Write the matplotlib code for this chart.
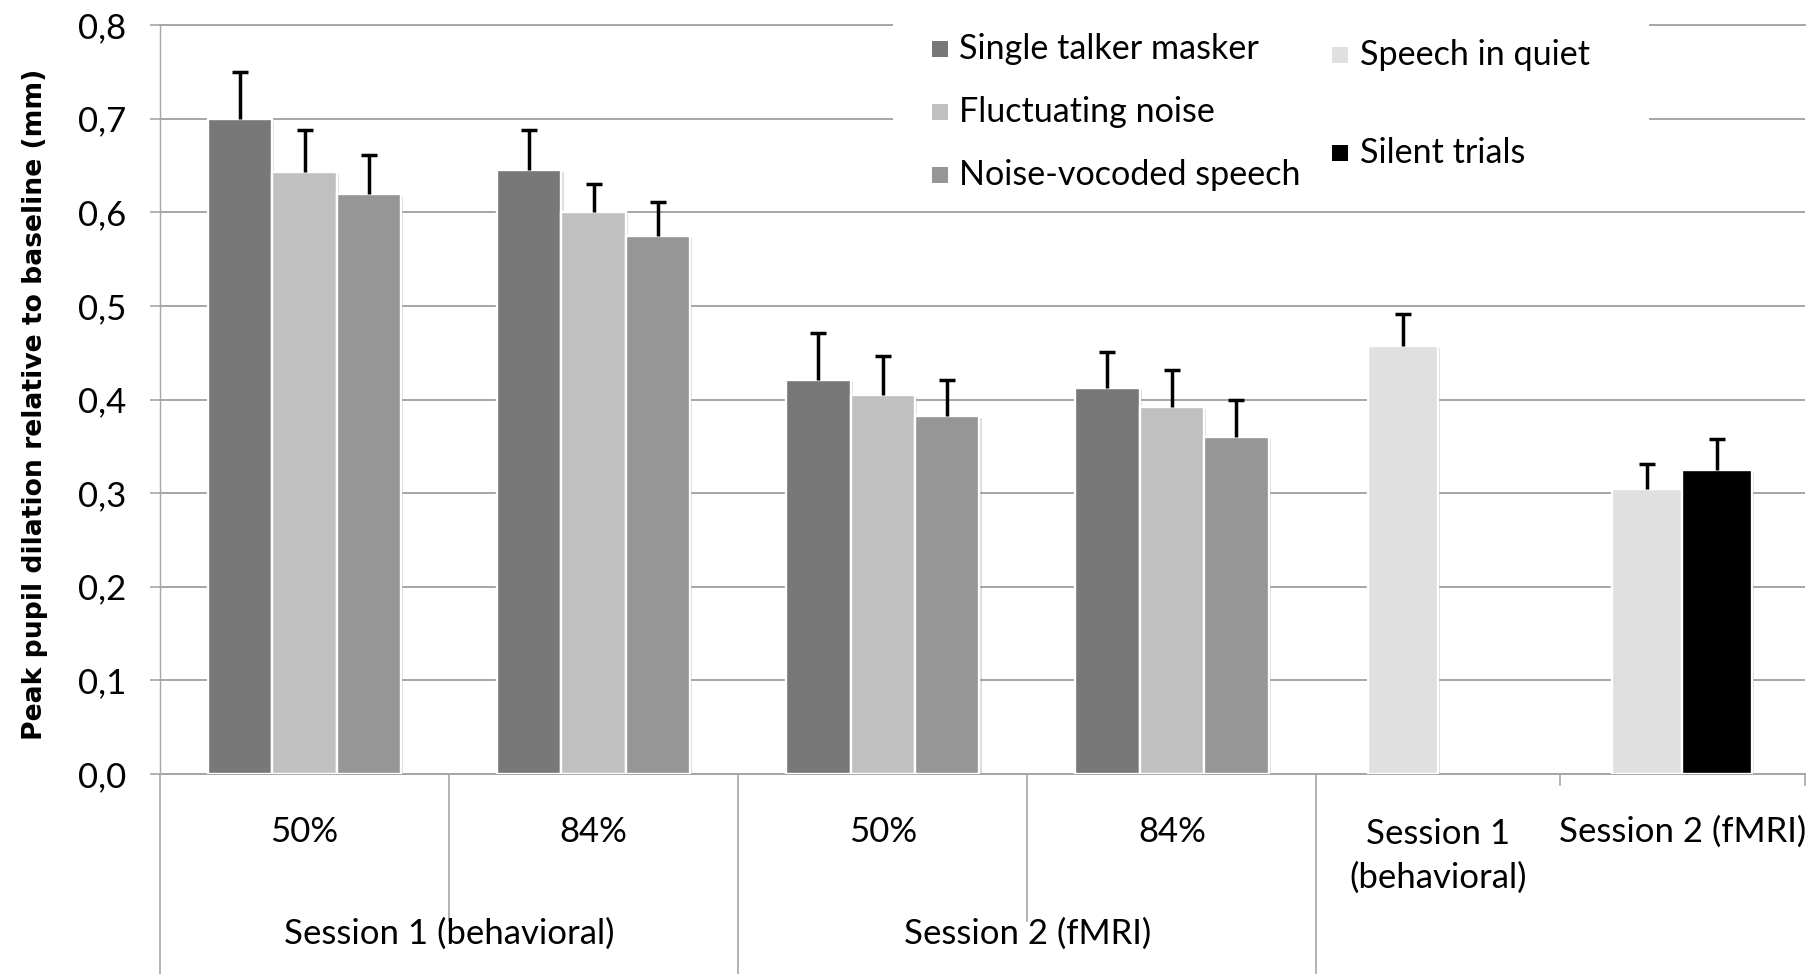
import matplotlib
matplotlib.use("Agg")
import matplotlib.pyplot as plt
import matplotlib.patheffects as pe
from matplotlib.patches import Rectangle
import numpy


#---- data -----
# masked conditions: 50% / 84% intelligibility in each session
SINGLE_TALKER = [0.700, 0.645, 0.421, 0.412]
SINGLE_TALKER_ERR = [0.050, 0.043, 0.050, 0.039]
FLUCT_NOISE = [0.643, 0.600, 0.405, 0.392]
FLUCT_NOISE_ERR = [0.045, 0.030, 0.041, 0.040]
NOISE_VOCODED = [0.620, 0.575, 0.382, 0.360]
NOISE_VOCODED_ERR = [0.041, 0.036, 0.039, 0.039]
# speech in quiet: session 1, session 2 ; silent trials only in session 2
SPEECH_QUIET = [0.457, 0.304]
SPEECH_QUIET_ERR = [0.034, 0.027]
SILENT = [0.325]
SILENT_ERR = [0.033]

LEVEL_LABELS = ["50%", "84%", "50%", "84%"]
SESSION_LABELS = ["Session 1 (behavioral)", "Session 2 (fMRI)"]
QUIET_LABELS = ["Session 1\n(behavioral)", "Session 2 (fMRI)"]
Y_TICKS = [0.0, 0.1, 0.2, 0.3, 0.4, 0.5, 0.6, 0.7, 0.8]
#---------------

#---- look -----
W, H = 1808, 974  # output size in px
DPI = 100
COL_SINGLE = "#787878"
COL_FLUCT = "#c0c0c0"
COL_VOC = "#969696"
COL_QUIET = "#e0e0e0"
COL_SILENT = "#000000"
GRID = "#a6a6a6"
FONT = "Lato"
FS = 25
# category edges (one unit per masked category)
EDGES = [0, 1, 2, 3, 4, 4.841, 5.69]
BAR_W = 0.223  # masked groups
BAR_W2 = 0.242  # quiet / silent groups
#---------------


def fx(px):
    return px / W


def fy(px):
    return 1 - px / H


def shadow():
    return [pe.SimplePatchShadow(offset=(1.5, -1.5), shadow_rgbFace="#777777", alpha=0.25), pe.Normal()]


def draw_bars(ax, x, vals, errs, width, color):
    ax.bar(x, vals, width=width, color=color, edgecolor="white", linewidth=1.7,
           path_effects=shadow(), zorder=3)
    # only the upper half of the error bar is shown
    _, caps, _ = ax.errorbar(x, vals, yerr=[numpy.zeros(len(errs)), errs], fmt="none",
                             ecolor="black", elinewidth=2.5, capsize=6, capthick=2.5, zorder=4)
    caps[0].set_visible(False)


def main():
    plt.rcParams["font.family"] = [FONT, "DejaVu Sans"]
    fig = plt.figure(figsize=(W / DPI, H / DPI), dpi=DPI)
    ax = fig.add_axes([fx(160), fy(774), fx(1805) - fx(160), fy(25) - fy(774)])

    centers = numpy.array([0.5, 1.5, 2.5, 3.5])
    draw_bars(ax, centers - BAR_W, SINGLE_TALKER, SINGLE_TALKER_ERR, BAR_W, COL_SINGLE)
    draw_bars(ax, centers, FLUCT_NOISE, FLUCT_NOISE_ERR, BAR_W, COL_FLUCT)
    draw_bars(ax, centers + BAR_W, NOISE_VOCODED, NOISE_VOCODED_ERR, BAR_W, COL_VOC)

    # last two categories hold two slots each
    c5 = (EDGES[4] + EDGES[5]) / 2
    c6 = (EDGES[5] + EDGES[6]) / 2
    quiet_x = numpy.array([c5, c6]) - BAR_W2 / 2
    draw_bars(ax, quiet_x, SPEECH_QUIET, SPEECH_QUIET_ERR, BAR_W2, COL_QUIET)
    draw_bars(ax, [c6 + BAR_W2 / 2], SILENT, SILENT_ERR, BAR_W2, COL_SILENT)

    ax.set_xlim(EDGES[0], EDGES[-1])
    ax.set_ylim(0, 0.8)
    ax.set_yticks(Y_TICKS)
    ax.set_yticklabels([("%.1f" % t).replace(".", ",") for t in Y_TICKS], fontsize=FS)
    ax.set_xticks([])
    ax.tick_params(axis="y", direction="out", length=7.2, width=1.2, color=GRID, pad=17)
    ax.yaxis.grid(True, color=GRID, linewidth=1.4)
    ax.set_axisbelow(True)
    ax.spines["right"].set_visible(False)
    ax.spines["top"].set_color(GRID)
    ax.spines["top"].set_linewidth(1.4)
    ax.spines["bottom"].set_color(GRID)
    ax.spines["bottom"].set_linewidth(1.4)
    ax.spines["left"].set_color(GRID)
    ax.spines["left"].set_linewidth(1.0)

    # category separators under the axis
    tr = ax.get_xaxis_transform()
    ah = 774 - 25
    depth = {0: -(974 - 774) / ah, 1: -(921 - 774) / ah, 2: -(974 - 774) / ah,
             3: -(921 - 774) / ah, 4: -(974 - 774) / ah, 5: -11 / ah, 6: -11 / ah}
    for i, e in enumerate(EDGES):
        ax.plot([e, e], [0, depth[i]], transform=tr, color=GRID, linewidth=1.2, clip_on=False)

    # axis labels
    lvl_y = -(832 - 774) / ah
    for c, lab in zip(centers, LEVEL_LABELS):
        ax.text(c, lvl_y, lab, transform=tr, ha="center", va="center", fontsize=FS)
    ses_y = -(934 - 774) / ah
    for c, lab in zip([1, 3], SESSION_LABELS):
        ax.text(c, ses_y, lab, transform=tr, ha="center", va="center", fontsize=FS)
    ax.text(c5, -(856 - 774) / ah, QUIET_LABELS[0], transform=tr, ha="center", va="center",
            fontsize=FS, linespacing=1.45, multialignment="center")
    ax.text(c6, lvl_y, QUIET_LABELS[1], transform=tr, ha="center", va="center", fontsize=FS)

    fig.text(fx(35), fy(404), "Peak pupil dilation relative to baseline (mm)", rotation=90,
             ha="center", va="center", fontsize=19.2, fontweight="bold", family="DejaVu Sans")

    # legend drawn as a white panel over the grid
    fig.patches.append(Rectangle((fx(893), fy(200)), fx(1649) - fx(893), fy(12) - fy(200),
                                 transform=fig.transFigure, facecolor="white", edgecolor="none",
                                 zorder=5))
    entries = [("Single talker masker", COL_SINGLE, 932, 959, 49),
               ("Fluctuating noise", COL_FLUCT, 932, 959, 112),
               ("Noise-vocoded speech", COL_VOC, 932, 959, 175),
               ("Speech in quiet", COL_QUIET, 1332, 1360, 55),
               ("Silent trials", COL_SILENT, 1332, 1360, 153)]
    for lab, col, kx, tx, y in entries:
        fig.patches.append(Rectangle((fx(kx), fy(y + 8)), fx(16), 16 / H, transform=fig.transFigure,
                                     facecolor=col, edgecolor="none", zorder=6))
        fig.text(fx(tx), fy(y), lab, ha="left", va="center", fontsize=24.6, zorder=7)

    fig.savefig("out.png", dpi=DPI)


if __name__ == "__main__":
    main()
